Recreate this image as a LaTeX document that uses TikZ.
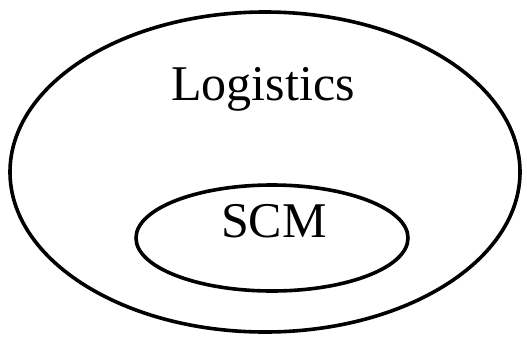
\documentclass[tikz,border=0pt]{standalone}
\usepackage{fontspec}
\setmainfont{Liberation Serif}
\begin{document}
\begin{tikzpicture}[x=1pt,y=-1pt,line width=3.6pt,set/.style={draw=black},label node/.style={anchor=base,inner sep=0pt,font=\fontsize{50}{60}\selectfont}]
        \useasboundingbox (0,0) rectangle (527,338);
        \draw[set] (265,172) ellipse [x radius=255, y radius=160];
        \draw[set] (272,238) ellipse [x radius=136, y radius=53];

        \node[label node] at (263,100) (logistics) {Logistics};
        \node[label node] at (274,237) (scm) {SCM};
    \end{tikzpicture}
\end{document}
